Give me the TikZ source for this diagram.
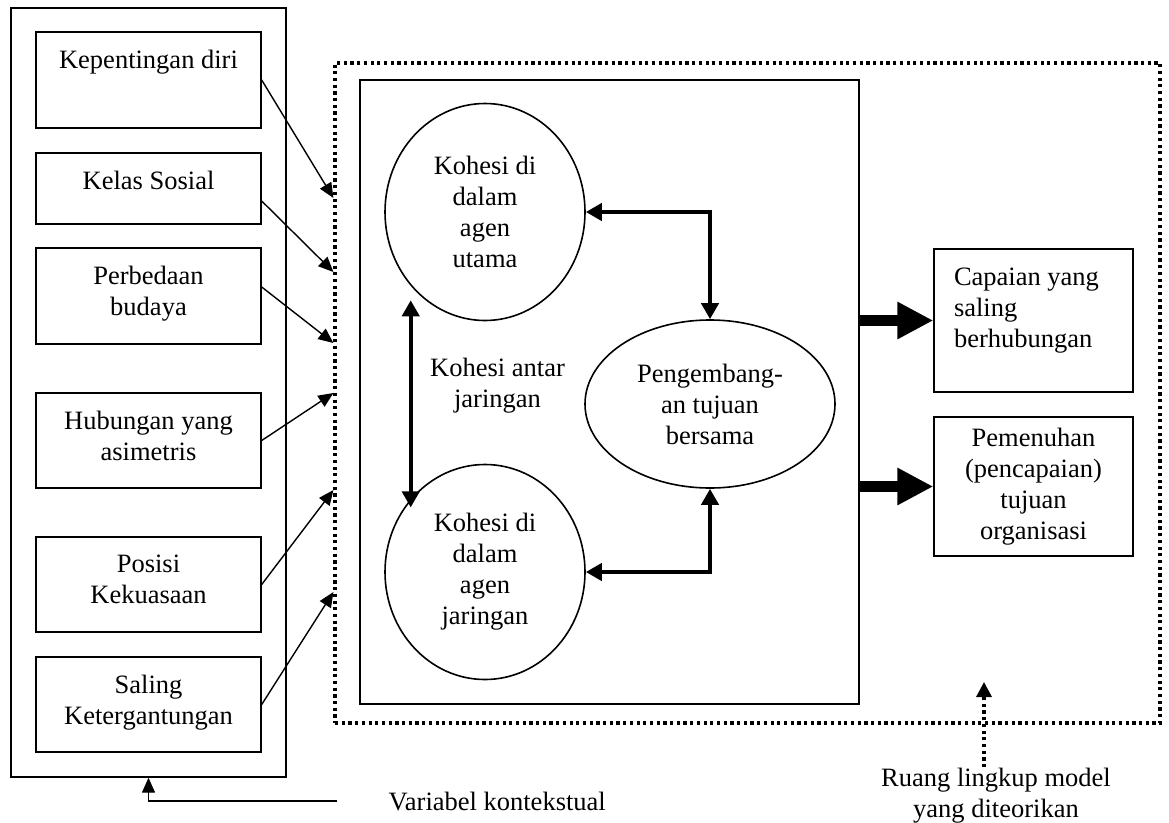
\documentclass[tikz,border=0pt]{standalone}
\usepackage{fontspec}
\setmainfont{Liberation Serif}
\usetikzlibrary{arrows.meta,shapes.geometric}

\tikzset{every picture/.style={line width=1.4pt}}
\tikzset{
  every node/.style={font=\fontsize{26.5}{31}\selectfont, inner sep=0pt},
  varbox/.style={draw, minimum width=225, minimum height=#1},
  vartext/.style={anchor=north, yshift=-18, align=center},
  bubble/.style={draw, ellipse, line width=1.6pt, align=center},
  outbox/.style={draw, minimum width=199},
  thinarrow/.style={-{Triangle[length=15pt,width=13pt]}},
  thickarrow/.style={line width=4pt, {Triangle[length=16pt,width=17pt]}-{Triangle[length=16pt,width=17pt]}},
  bigarrow/.style={line width=11pt, -{Triangle[length=36pt,width=35pt]}},
  scopeline/.style={line width=3.2pt, dash pattern=on 3.2pt off 3.5pt},
}

\begin{document}
\begin{tikzpicture}[x=1pt,y=1pt,yscale=-1]
\useasboundingbox (0,0) rectangle (1169,822);

%Contextual variables
\node[draw, minimum width=275, minimum height=769] (ctx) at (148.5,392.5) {};
\node[varbox=96, label={[vartext]north:{Kepentingan diri}}] (kep) at (148.5,80) {};
\node[varbox=71, label={[vartext]north:{Kelas Sosial}}] (kel) at (148.5,188.5) {};
\node[varbox=96, label={[vartext]north:{Perbedaan\\budaya}}] (per) at (148.5,296) {};
\node[varbox=95, label={[vartext]north:{Hubungan yang\\asimetris}}] (hub) at (148.5,440.5) {};
\node[varbox=95, label={[vartext]north:{Posisi\\Kekuasaan}}] (pos) at (148.5,584.5) {};
\node[varbox=95, label={[vartext]north:{Saling\\Ketergantungan}}] (sal) at (148.5,704.5) {};

%Model scope
\node[draw, scopeline, minimum width=825, minimum height=660] (model) at (747.5,393) {};
\node[draw, minimum width=499, minimum height=624] (inner) at (609.5,392) {};

%Shape: Ellipses
\node[bubble, minimum width=200, minimum height=217] (utama) at (485,212) {Kohesi di\\dalam\\agen\\utama};
\node[bubble, minimum width=200, minimum height=215] (jaringan) at (485,572) {Kohesi di\\dalam\\agen\\jaringan};
\node[bubble, minimum width=250, minimum height=168] (tujuan) at (710,404) {Pengembang-\\an tujuan\\bersama};
% Text Node
\node[align=center] (antar) at (497.5,386) {Kohesi antar\\jaringan};

%Outcomes
\node[outbox, minimum height=143, label={[anchor=north west, xshift=20, yshift=-19, align=left]north west:{Capaian yang\\saling\\berhubungan}}] (capaian) at (1033.5,320.5) {};
\node[outbox, minimum height=139, align=center] (penuh) at (1033.5,486.5) {Pemenuhan\\(pencapaian)\\tujuan\\organisasi};

%Straight Lines
\draw[thinarrow] (kep.east) -- (model.west |- 0,198);
\draw[thinarrow] (kel.east |- 0,201) -- (model.west |- 0,272);
\draw[thinarrow] (per.east |- 0,287) -- (model.west |- 0,343);
\draw[thinarrow] (hub.east) -- (model.west |- 0,393);
\draw[thinarrow] (pos.east) -- (model.west |- 0,490);
\draw[thinarrow] (sal.east) -- (model.west |- 0,592);

\draw[thickarrow] (utama.east) -| (tujuan.north);
\draw[thickarrow] (jaringan.east) -| (tujuan.south);
\draw[thickarrow] ([shift={(-3,11)}]utama.south west) -- ([shift={(-3,12)}]jaringan.north west);

\draw[bigarrow] (inner.east |- capaian.west) -- (capaian.west);
\draw[bigarrow] (inner.east |- penuh.west) -- (penuh.west);

% Text Node
\node[anchor=base west] (vk) at (388,810) {Variabel kontekstual};
\draw[thinarrow] (vk.west) ++(-51,0) -| (ctx.south);

% Text Node
\node[align=center] (ruang) at (996,795.5) {Ruang lingkup model\\yang diteorikan};
\coordinate (ruangtip) at (984,682);
\draw[scopeline, -{Triangle[length=15pt,width=15pt]}] (ruang.north -| ruangtip) -- (ruangtip);

\end{tikzpicture}
\end{document}
